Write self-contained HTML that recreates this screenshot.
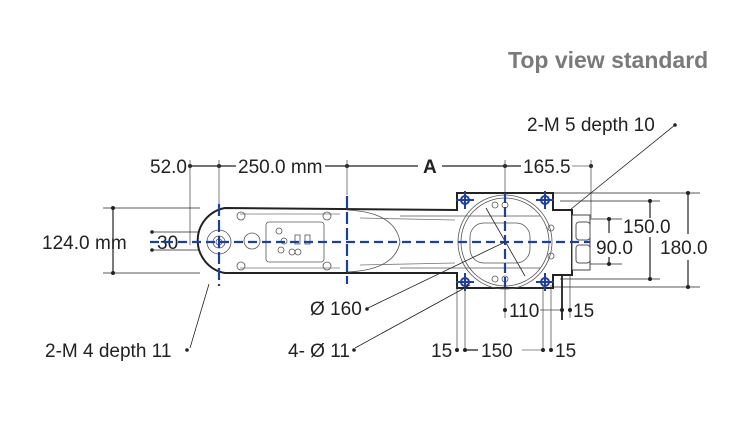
<!DOCTYPE html>
<html><head><style>
body{margin:0;background:#fff}
svg text{font-family:"Liberation Sans",Arial,sans-serif;font-size:19px;fill:#222}
</style></head><body>
<svg width="748" height="432" viewBox="0 0 748 432" xmlns="http://www.w3.org/2000/svg">
<text x="508" y="68" style="font-size:23px;font-weight:bold;fill:#7a7a7a">Top view standard</text>
<text x="527" y="131">2-M 5 depth 10</text>
<circle cx="675" cy="125" r="1.8" fill="#222"/>
<line x1="675" y1="125" x2="560" y2="218" stroke="#222" stroke-width="0.8"/>

<!-- top dimension -->
<line x1="190" y1="166" x2="236" y2="166" stroke="#222" stroke-width="1.3"/>
<line x1="325" y1="166" x2="418" y2="166" stroke="#222" stroke-width="1.3"/>
<line x1="442" y1="166" x2="521" y2="166" stroke="#222" stroke-width="1.3"/>
<line x1="572" y1="166" x2="591" y2="166" stroke="#888" stroke-width="1"/>
<text x="150" y="173">52.0</text>
<text x="238" y="173">250.0 mm</text>
<text x="423" y="173" style="font-weight:bold">A</text>
<text x="523" y="173">165.5</text>
<g fill="#222"><circle cx="190" cy="166" r="2"/><circle cx="219" cy="166" r="2"/><circle cx="347" cy="166" r="2"/><circle cx="505" cy="166" r="2"/><circle cx="591" cy="166" r="2"/></g>
<g stroke="#444" stroke-width="0.7">
<line x1="190" y1="160" x2="190" y2="245"/><line x1="219" y1="160" x2="219" y2="205"/><line x1="347" y1="160" x2="347" y2="195"/><line x1="505" y1="160" x2="505" y2="195"/><line x1="591" y1="160" x2="591" y2="218"/>
</g>

<!-- left dims -->
<line x1="103" y1="208" x2="200" y2="208" stroke="#222" stroke-width="0.8"/>
<line x1="103" y1="273" x2="200" y2="273" stroke="#222" stroke-width="0.8"/>
<line x1="113" y1="208" x2="113" y2="273" stroke="#222" stroke-width="1.2"/>
<circle cx="113" cy="208" r="2" fill="#222"/><circle cx="113" cy="273" r="2" fill="#222"/>
<text x="42" y="249">124.0</text><text x="95" y="249">mm</text>
<line x1="152" y1="232" x2="215" y2="232" stroke="#222" stroke-width="0.7"/>
<line x1="152" y1="250" x2="215" y2="250" stroke="#222" stroke-width="0.7"/>
<circle cx="152" cy="232" r="1.8" fill="#222"/><circle cx="152" cy="250" r="1.8" fill="#222"/>
<rect x="156" y="234" width="23" height="15" fill="#fff"/>
<text x="157" y="249">30</text>

<!-- arm body -->
<path d="M225 208 L457 210 L457 193 L553 193 L553 210 L572 210 L572 275 L553 275 L553 288 L457 288 L457 273 L225 273 A33 33 0 0 1 225 208 Z" fill="#fff" stroke="#222" stroke-width="2"/>
<rect x="572" y="215" width="18" height="55" fill="#fff" stroke="#444" stroke-width="1"/>
<rect x="576" y="222" width="14" height="18" rx="3" fill="none" stroke="#555"/>
<rect x="576" y="245" width="14" height="18" rx="3" fill="none" stroke="#555"/>
<path d="M240 214 L340 214 M240 268 L340 268 M360 218 L455 220 M360 265 L455 263" stroke="#777" stroke-width="0.8" fill="none"/>
<path d="M347 210 Q395 212 400 242 Q395 270 347 272" fill="none" stroke="#555" stroke-width="0.8"/>
<g fill="none" stroke="#555" stroke-width="0.8">
<circle cx="219" cy="242" r="12"/><circle cx="219" cy="242" r="6"/><circle cx="219" cy="242" r="3"/>
<circle cx="252" cy="241" r="8"/>
<rect x="266" y="222" width="58" height="40" rx="3"/>
<circle cx="279" cy="231" r="3"/><circle cx="284" cy="241" r="3"/><circle cx="281" cy="250" r="3"/><circle cx="292" cy="252" r="3"/><circle cx="298" cy="252" r="3"/>
<rect x="295" y="235" width="5" height="9"/><rect x="305" y="235" width="5" height="9"/>
<circle cx="241" cy="216" r="4"/><circle cx="241" cy="266" r="4"/><circle cx="327" cy="216" r="4"/><circle cx="327" cy="266" r="4"/>
<circle cx="505" cy="242" r="44"/><circle cx="505" cy="242" r="47"/>
<rect x="470" y="223" width="60" height="40" rx="14"/>
<line x1="400" y1="216" x2="540" y2="216"/><line x1="400" y1="268" x2="540" y2="268"/>
<circle cx="495" cy="205" r="3"/><circle cx="505" cy="205" r="3"/><circle cx="495" cy="279" r="3"/><circle cx="505" cy="279" r="3"/>
<circle cx="551" cy="228" r="3"/><circle cx="551" cy="256" r="3"/>
</g>
<line x1="486" y1="208" x2="525" y2="276" stroke="#222" stroke-width="0.8"/>

<!-- blue center lines -->
<g stroke="#1f3f9a" stroke-width="2.2">
<line x1="150" y1="242" x2="590" y2="242" stroke-dasharray="9,5"/>
<line x1="219" y1="204" x2="219" y2="286" stroke-dasharray="12,4"/>
<line x1="347" y1="196" x2="347" y2="284" stroke-dasharray="12,4"/>
<line x1="505" y1="193" x2="505" y2="290" stroke-dasharray="10,4"/>
</g>
<g stroke="#1f3f9a" stroke-width="2" fill="none">
<g transform="translate(465,200)"><line x1="-9" y1="0" x2="9" y2="0"/><line x1="0" y1="-9" x2="0" y2="9"/><circle r="4"/></g>
<g transform="translate(545,200)"><line x1="-9" y1="0" x2="9" y2="0"/><line x1="0" y1="-9" x2="0" y2="9"/><circle r="4"/></g>
<g transform="translate(465,282)"><line x1="-9" y1="0" x2="9" y2="0"/><line x1="0" y1="-9" x2="0" y2="9"/><circle r="4"/></g>
<g transform="translate(545,282)"><line x1="-9" y1="0" x2="9" y2="0"/><line x1="0" y1="-9" x2="0" y2="9"/><circle r="4"/></g>
</g>

<!-- right dims -->
<g stroke="#222" stroke-width="0.8">
<line x1="550" y1="193" x2="700" y2="193"/><line x1="553" y1="287" x2="700" y2="287"/>
<line x1="560" y1="201" x2="660" y2="201"/><line x1="560" y1="279" x2="660" y2="279"/>
<line x1="590" y1="219" x2="622" y2="219"/><line x1="590" y1="264" x2="622" y2="264"/>
</g>
<g stroke="#222" stroke-width="1.2">
<line x1="688" y1="193" x2="688" y2="234"/><line x1="688" y1="260" x2="688" y2="287"/>
<line x1="650" y1="201" x2="650" y2="218"/><line x1="650" y1="237" x2="650" y2="279"/>
<line x1="609" y1="219" x2="609" y2="233"/><line x1="609" y1="257" x2="609" y2="264"/>
</g>
<g fill="#222"><circle cx="688" cy="193" r="2"/><circle cx="688" cy="287" r="2"/><circle cx="650" cy="201" r="2"/><circle cx="650" cy="279" r="2"/><circle cx="609" cy="219" r="2"/><circle cx="609" cy="264" r="2"/></g>
<text x="623" y="233">150.0</text>
<text x="596" y="254">90.0</text>
<text x="660" y="254">180.0</text>

<!-- bottom dims -->
<g stroke="#444" stroke-width="0.7">
<line x1="457" y1="285" x2="457" y2="352"/><line x1="465" y1="285" x2="465" y2="352"/>
<line x1="543" y1="285" x2="543" y2="352"/><line x1="551" y1="285" x2="551" y2="352"/>
<line x1="505" y1="288" x2="505" y2="318"/><line x1="570" y1="275" x2="570" y2="318"/>
</g>
<line x1="562" y1="275" x2="562" y2="320" stroke="#222" stroke-width="1.8"/>
<line x1="540" y1="310" x2="562" y2="310" stroke="#444" stroke-width="0.8"/>
<line x1="465" y1="350" x2="478" y2="350" stroke="#222" stroke-width="1.3"/>
<line x1="522" y1="350" x2="543" y2="350" stroke="#666" stroke-width="0.8"/>
<g fill="#222"><circle cx="505" cy="310" r="2"/><circle cx="562" cy="310" r="2"/><circle cx="570" cy="310" r="2"/>
<circle cx="457" cy="350" r="2"/><circle cx="465" cy="350" r="2"/><circle cx="543" cy="350" r="2"/><circle cx="551" cy="350" r="2"/></g>
<text x="509" y="317">110</text>
<text x="573" y="317">15</text>
<text x="431" y="357">15</text>
<text x="481" y="357">150</text>
<text x="555" y="357">15</text>

<!-- leaders -->
<g stroke="#222" stroke-width="0.8">
<line x1="368" y1="308" x2="505" y2="242"/>
<line x1="355" y1="348" x2="470" y2="285"/>
<line x1="190" y1="348" x2="209" y2="284"/>
</g>
<text x="310" y="315">Ø 160</text><circle cx="367" cy="309" r="1.8" fill="#222"/>
<text x="288" y="357">4- Ø 11</text><circle cx="354" cy="350" r="1.8" fill="#222"/>
<text x="45" y="357">2-M 4 depth 11</text><circle cx="187" cy="350" r="1.8" fill="#222"/>
</svg>
</body></html>
